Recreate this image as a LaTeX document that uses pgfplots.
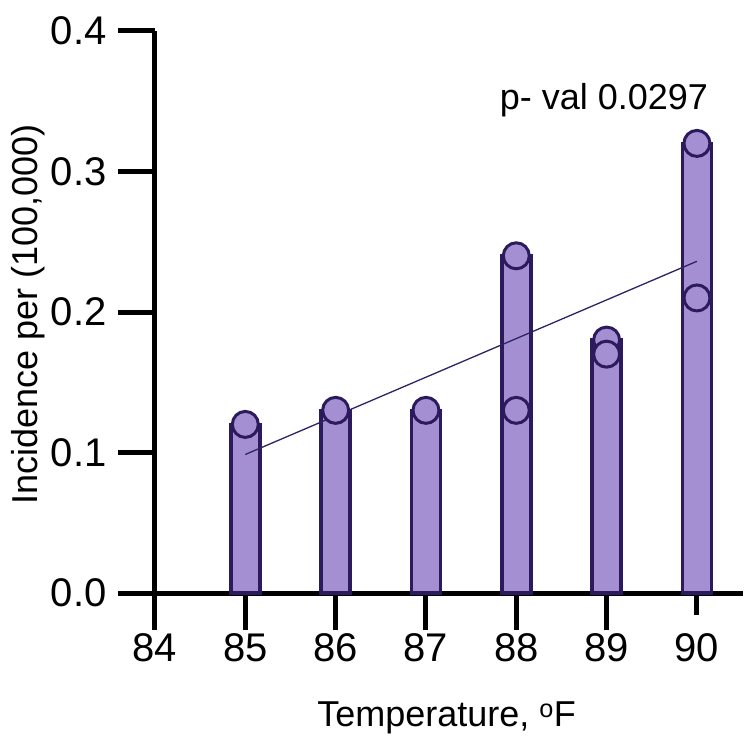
\documentclass[border=0pt]{standalone}
\usepackage{pgfplots}
\pgfplotsset{compat=1.18}
\usepackage{fontspec}
\setmainfont{Liberation Sans}
\definecolor{barfill}{HTML}{A58FD3}
\definecolor{baredge}{HTML}{2B1A5C}
\definecolor{trend}{HTML}{2A2466}
\begin{document}
\begin{tikzpicture}
\begin{axis}[
  at={(0,0)}, anchor=south west,
  scale only axis, width=588pt, height=562pt,
  xmin=84, xmax=90.51, ymin=0, ymax=0.4,
  clip=false,
  axis x line=bottom, axis y line=left,
  axis line style={line width=5pt, -, black},
  xtick={84,85,86,87,88,89,90},
  ytick={0,0.1,0.2,0.3,0.4},
  tick align=outside,
  major tick length=37pt,
  tick style={line width=5pt, black},
  x tick style={shorten <=15pt},
  /pgf/number format/assume math mode=true,
  ticklabel style={font=\fontsize{40}{42}\selectfont},
  yticklabel style={xshift=-8pt, /pgf/number format/.cd, fixed, fixed zerofill, precision=1},
  xlabel={Temperature, \textsuperscript{o}F},
  ylabel={Incidence per (100,000)},
  every axis x label/.style={at={(axis description cs:0.496,-0.238)}, anchor=base, font=\fontsize{36}{38}\selectfont},
  every axis y label/.style={at={(axis description cs:-0.216,0.495)}, anchor=center, rotate=90, font=\fontsize{36}{38}\selectfont},
]
\addplot[ybar, bar width=29pt, fill=barfill, draw=baredge, line width=3.5pt]
  coordinates {(85,0.12) (86,0.13) (87,0.13) (88,0.24) (89,0.18) (90,0.32)};
\addplot[trend, line width=1.3pt] coordinates {(85,0.0986) (90,0.2361)};
\addplot[only marks, mark=*, mark size=13pt, mark options={fill=barfill, draw=baredge, line width=3pt}]
  coordinates {(85,0.12) (86,0.13) (87,0.13) (88,0.24) (88,0.13) (89,0.18) (89,0.17) (90,0.32) (90,0.21)};
\node[font=\fontsize{36}{38}\selectfont, anchor=base] at (axis cs:88.97,0.3438) {p- val 0.0297};
\end{axis}
\pgfresetboundingbox
\path (-155pt,-147pt) rectangle (592pt,593pt);
\end{tikzpicture}
\end{document}
